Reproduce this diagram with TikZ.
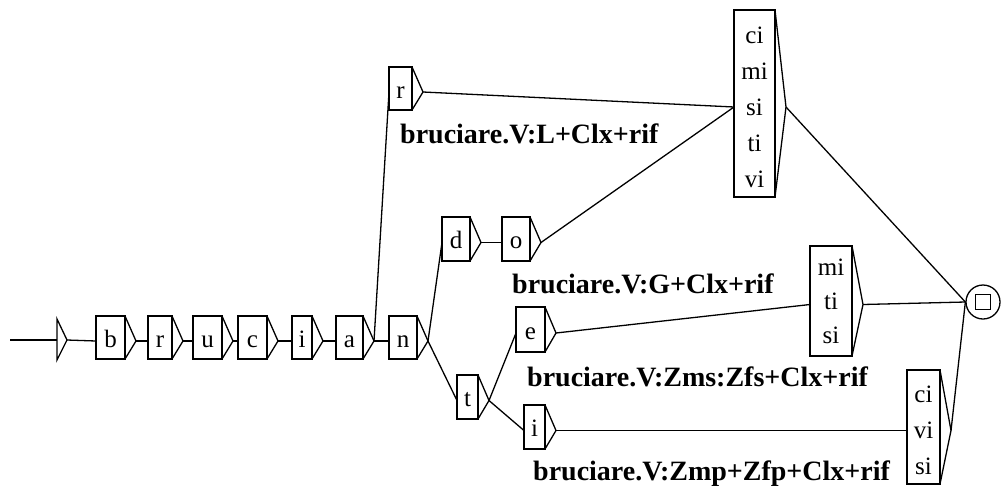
\documentclass[tikz,border=0pt]{standalone}
\usepackage{fontspec}
\setmainfont{Liberation Serif}
\tikzset{
  gbox/.style={draw, line width=1.3pt, inner sep=0pt, fill=white,
    font=\fontsize{25}{36}\selectfont, align=center},
  onel/.style={text height=20pt, text depth=1pt},
  tri/.style={line width=1.3pt, line join=miter},
  conn/.style={line width=1.3pt},
  outlab/.style={anchor=base west, inner sep=0pt,
    font=\bfseries\fontsize{28}{30}\selectfont},
}
% name, x1, x2, top, bottom, text, extra options
\newcommand{\gbox}[7]{%
  \pgfmathsetmacro\bw{#3-#2}\pgfmathsetmacro\bh{#5-#4}%
  \pgfmathsetmacro\bx{(#2+#3)/2}\pgfmathsetmacro\by{(#4+#5)/2}%
  \pgfmathsetmacro\ly{\by+3.5}%
  \node[gbox, minimum width=\bw pt, minimum height=\bh pt, #7] (#1) at (\bx,\by) {#6};
  \draw[tri] (#3,#4) -- (#3+11,\ly) -- (#3,#5);
  \coordinate (#1-in) at (#2,\ly);
  \coordinate (#1-out) at (#3+11,\ly);
}
\begin{document}
\begin{tikzpicture}[x=1pt, y=-1pt]
\useasboundingbox (0,0) rectangle (1001,491);
% initial state
\coordinate (start) at (10,340);
\coordinate (init-base) at (57,340);
\coordinate (init-out) at (67,340);
\draw[tri] (57,319) -- (init-out) -- (57,360) -- cycle;
% boxes
\gbox{b}{96}{125}{316}{359}{b}{onel}
\gbox{r1}{148}{172}{316}{359}{r}{onel}
\gbox{u}{193}{222}{316}{359}{u}{onel}
\gbox{c}{238}{267}{316}{359}{c}{onel}
\gbox{i1}{292}{312}{316}{359}{i}{onel}
\gbox{a}{336}{363}{316}{359}{a}{onel}
\gbox{n}{389}{417}{316}{359}{n}{onel}
\gbox{r2}{389}{412}{67}{110}{r}{onel}
\gbox{d}{442}{470}{217}{261}{d}{onel}
\gbox{o}{502}{530}{217}{261}{o}{onel}
\gbox{t}{457}{478}{375}{419}{t}{onel}
\gbox{e}{516}{545}{307}{352}{e}{onel}
\gbox{i2}{524}{545}{405}{449}{i}{onel}
\gbox{big}{734}{775}{10}{197}{ci\\mi\\si\\ti\\vi}{text height=167pt, text depth=0pt}
\gbox{mts}{810}{852}{246}{356}{mi\\[-2pt]ti\\[-2pt]si}{text height=84pt, text depth=0pt}
\gbox{cvs}{907}{940}{370}{484}{ci\\vi\\si}{text height=94pt, text depth=0pt}
% final state
\node[draw, circle, minimum size=34pt, inner sep=0pt, line width=1.3pt] (fin) at (983,302) {};
\node[draw, minimum width=15pt, minimum height=15pt, inner sep=0pt, line width=1.3pt] (finsq) at (fin.center) {};
% connections
\draw[conn] (start) -- (init-base);
\draw[conn] (init-out) -- (b-in);
\draw[conn] (b-out) -- (r1-in);
\draw[conn] (r1-out) -- (u-in);
\draw[conn] (u-out) -- (c-in);
\draw[conn] (c-out) -- (i1-in);
\draw[conn] (i1-out) -- (a-in);
\draw[conn] (a-out) -- (n-in);
\draw[conn] (a-out) -- (r2-in);
\draw[conn] (n-out) -- (d-in);
\draw[conn] (n-out) -- (t-in);
\draw[conn] (r2-out) -- (big-in);
\draw[conn] (d-out) -- (o-in);
\draw[conn] (o-out) -- (big-in);
\draw[conn] (t-out) -- (e-in);
\draw[conn] (t-out) -- (i2-in);
\draw[conn] (e-out) -- (mts-in);
\draw[conn] (i2-out) -- (cvs-in);
\draw[conn] (big-out) -- (fin.west);
\draw[conn] (mts-out) -- (fin.west);
\draw[conn] (cvs-out) -- (fin.west);
% outputs
\node[outlab] (l1) at (400,143) {bruciare.V:L+Clx+rif};
\node[outlab] (l2) at (512,293) {bruciare.V:G+Clx+rif};
\node[outlab] (l3) at (527,386) {bruciare.V:Zms:Zfs+Clx+rif};
\node[outlab] (l4) at (533,480) {bruciare.V:Zmp+Zfp+Clx+rif};
\end{tikzpicture}
\end{document}
